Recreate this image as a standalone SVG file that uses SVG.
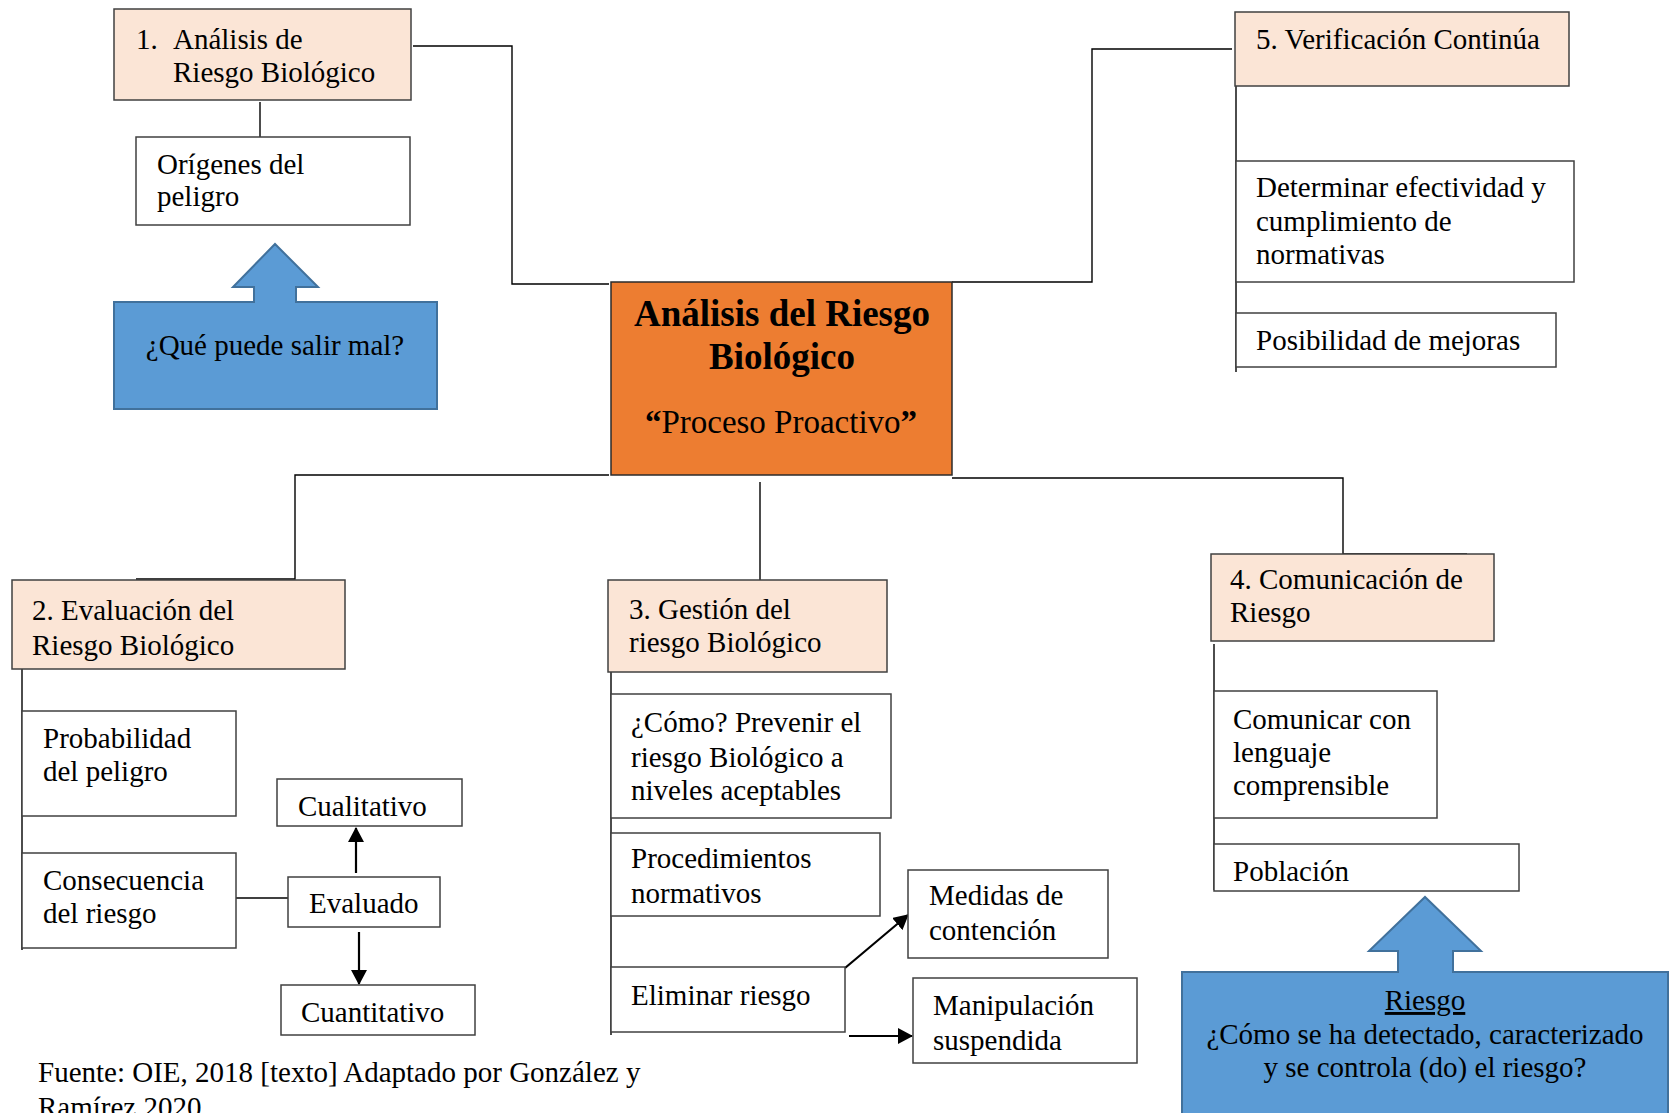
<svg xmlns="http://www.w3.org/2000/svg" width="1670" height="1113" viewBox="0 0 1670 1113">
  <style>
    text { font-family: "Liberation Serif", "Times New Roman", serif; font-size: 29px; fill: #000; }
    .box { fill: #fff; stroke: #404040; stroke-width: 1.5; }
    .step { fill: #FBE5D6; stroke: #404040; stroke-width: 1.5; }
    .core { fill: #ED7D31; stroke: #2b2b2b; stroke-width: 1.5; }
    .callout { fill: #5B9BD5; stroke: #41719C; stroke-width: 2; }
    .link { fill: none; stroke: #000; stroke-width: 1.4; }
    .arrow { fill: none; stroke: #000; stroke-width: 2.2; }
    .title { font-weight: bold; font-size: 37px; }
    .sub { font-size: 33px; }
    .mid { text-anchor: middle; }
  </style>
  <defs>
    <marker id="head" markerUnits="userSpaceOnUse" markerWidth="16" markerHeight="16" refX="14" refY="8" orient="auto">
      <path d="M0,0 L15,8 L0,16 Z" fill="#000"/>
    </marker>
  </defs>

  <rect width="1670" height="1113" fill="#fff"/>

  <!-- connectors -->
  <g id="connectors">
    <path class="link" d="M413,46 H512 V284 H609"/>
    <path class="link" d="M952,282 H1092 V49 H1232"/>
    <path class="link" d="M609,475 H295 V579 H136"/>
    <path class="link" d="M760,482 V580"/>
    <path class="link" d="M952,478 H1343 V554 H1467"/>
    <path class="link" d="M260,102 V138"/>
    <path class="link" d="M1236,86 V372"/>
    <path class="link" d="M22,666 V950"/>
    <path class="link" d="M611,666 V1035"/>
    <path class="link" d="M1214,644 V890"/>
    <path class="link" d="M232,898 H288"/>
    <path class="arrow" d="M356,873 V828" marker-end="url(#head)"/>
    <path class="arrow" d="M359,932 V984" marker-end="url(#head)"/>
    <path class="arrow" d="M845,968 L908,915" marker-end="url(#head)"/>
    <path class="arrow" d="M849,1036 H912" marker-end="url(#head)"/>
  </g>

  <!-- central node -->
  <g id="core">
    <rect class="core" x="611" y="282" width="341" height="193"/>
    <text class="title mid" x="782" y="326">Análisis del Riesgo</text>
    <text class="title mid" x="782" y="369">Biológico</text>
    <text class="sub mid" x="781" y="433"><tspan font-weight="bold">“</tspan>Proceso Proactivo<tspan font-weight="bold">”</tspan></text>
  </g>

  <!-- step 1 -->
  <g id="step1">
    <rect class="step" x="114" y="9" width="297" height="91"/>
    <text x="136" y="49">1.</text>
    <text x="173" y="49">Análisis de</text>
    <text x="173" y="82">Riesgo Biológico</text>
  </g>
  <g id="origenes">
    <rect class="box" x="136" y="137" width="274" height="88"/>
    <text x="157" y="174">Orígenes del</text>
    <text x="157" y="206">peligro</text>
  </g>
  <g id="que-puede">
    <path class="callout" d="M114,302 H254 V287 H233 L275,244 L318,287 H296 V302 H437 V409 H114 Z"/>
    <text class="mid" x="275" y="355">¿Qué puede salir mal?</text>
  </g>

  <!-- step 5 -->
  <g id="step5">
    <rect class="step" x="1235" y="12" width="334" height="74"/>
    <text x="1256" y="49">5. Verificación Continúa</text>
  </g>
  <g id="determinar">
    <rect class="box" x="1236" y="161" width="338" height="121"/>
    <text x="1256" y="197">Determinar efectividad y</text>
    <text x="1256" y="231">cumplimiento de</text>
    <text x="1256" y="264">normativas</text>
  </g>
  <g id="posibilidad">
    <rect class="box" x="1236" y="313" width="320" height="54"/>
    <text x="1256" y="350">Posibilidad de mejoras</text>
  </g>

  <!-- step 2 -->
  <g id="step2">
    <rect class="step" x="12" y="580" width="333" height="89"/>
    <text x="32" y="620">2. Evaluación del</text>
    <text x="32" y="655">Riesgo Biológico</text>
  </g>
  <g id="probabilidad">
    <rect class="box" x="22" y="711" width="214" height="105"/>
    <text x="43" y="748">Probabilidad</text>
    <text x="43" y="781">del peligro</text>
  </g>
  <g id="consecuencia">
    <rect class="box" x="22" y="853" width="214" height="95"/>
    <text x="43" y="890">Consecuencia</text>
    <text x="43" y="923">del riesgo</text>
  </g>
  <g id="cualitativo">
    <rect class="box" x="277" y="779" width="185" height="47"/>
    <text x="298" y="816">Cualitativo</text>
  </g>
  <g id="evaluado">
    <rect class="box" x="288" y="877" width="152" height="50"/>
    <text x="309" y="913">Evaluado</text>
  </g>
  <g id="cuantitativo">
    <rect class="box" x="281" y="985" width="194" height="50"/>
    <text x="301" y="1022">Cuantitativo</text>
  </g>

  <!-- step 3 -->
  <g id="step3">
    <rect class="step" x="608" y="580" width="279" height="92"/>
    <text x="629" y="619">3. Gestión del</text>
    <text x="629" y="652">riesgo Biológico</text>
  </g>
  <g id="como">
    <rect class="box" x="611" y="694" width="280" height="124"/>
    <text x="631" y="732">¿Cómo? Prevenir el</text>
    <text x="631" y="767">riesgo Biológico a</text>
    <text x="631" y="800">niveles aceptables</text>
  </g>
  <g id="procedimientos">
    <rect class="box" x="611" y="833" width="269" height="83"/>
    <text x="631" y="868">Procedimientos</text>
    <text x="631" y="903">normativos</text>
  </g>
  <g id="eliminar">
    <rect class="box" x="611" y="967" width="234" height="65"/>
    <text x="631" y="1005">Eliminar riesgo</text>
  </g>
  <g id="medidas">
    <rect class="box" x="908" y="870" width="200" height="88"/>
    <text x="929" y="905">Medidas de</text>
    <text x="929" y="940">contención</text>
  </g>
  <g id="manipulacion">
    <rect class="box" x="913" y="978" width="224" height="85"/>
    <text x="933" y="1015">Manipulación</text>
    <text x="933" y="1050">suspendida</text>
  </g>

  <!-- step 4 -->
  <g id="step4">
    <rect class="step" x="1211" y="554" width="283" height="87"/>
    <text x="1230" y="589">4. Comunicación de</text>
    <text x="1230" y="622">Riesgo</text>
  </g>
  <g id="comunicar">
    <rect class="box" x="1214" y="691" width="223" height="127"/>
    <text x="1233" y="729">Comunicar con</text>
    <text x="1233" y="762">lenguaje</text>
    <text x="1233" y="795">comprensible</text>
  </g>
  <g id="poblacion">
    <rect class="box" x="1214" y="844" width="305" height="47"/>
    <text x="1233" y="881">Población</text>
  </g>
  <g id="riesgo">
    <path class="callout" d="M1182,972 H1398 V951 H1369 L1425,897 L1481,951 H1453 V972 H1668 V1125 H1182 Z"/>
    <text class="mid" x="1425" y="1010" text-decoration="underline">Riesgo</text>
    <text class="mid" x="1425" y="1044">¿Cómo se ha detectado, caracterizado</text>
    <text class="mid" x="1425" y="1077">y se controla (do) el riesgo?</text>
  </g>

  <!-- source note -->
  <g id="fuente">
    <text x="38" y="1082">Fuente: OIE, 2018 [texto] Adaptado por González y</text>
    <text x="38" y="1117">Ramírez 2020</text>
  </g>
</svg>
